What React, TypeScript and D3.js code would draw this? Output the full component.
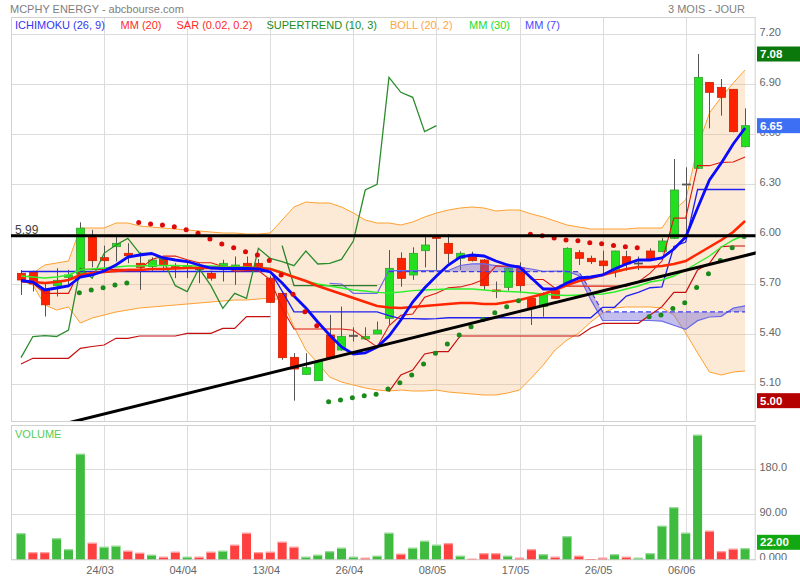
import React from 'react';
import * as d3 from 'd3';

const W = 800;
const H = 580;

const dateIdx = [7, 14, 21, 28, 35, 42, 49, 56];
const dateLabels = ['24/03', '04/04', '13/04', '26/04', '08/05', '17/05', '26/05', '06/06'];

const opens = [5.764, 5.775, 5.67, 5.69, 5.74, 5.76, 5.985, 5.858, 5.924, 5.884,
  5.824, 5.804, 5.85, 5.804, 5.798, 5.792, 5.764, 5.81, 5.804, 5.824,
  5.824, 5.735, 5.644, 5.26, 5.158, 5.12, 5.394, 5.304, 5.392, 5.37,
  5.40, 5.494, 5.854, 5.754, 5.90, 5.984, 5.944, 5.854, 5.864, 5.844,
  5.664, 5.68, 5.798, 5.614, 5.564, 5.66, 5.708, 5.888, 5.854, 5.838,
  5.78, 5.864, 5.826, 5.898, 5.894, 5.974, 6.30, 6.394, 6.91, 6.88,
  6.868, 6.524];
const highs = [5.784, 5.78, 5.70, 5.795, 5.785, 6.07, 6.025, 5.93, 5.99, 5.945,
  5.89, 5.86, 5.865, 5.825, 5.83, 5.825, 5.78, 5.845, 5.865, 5.865,
  5.85, 5.75, 5.65, 5.285, 5.285, 5.245, 5.515, 5.565, 5.44, 5.44,
  5.475, 5.904, 5.89, 5.92, 5.985, 5.99, 6.0, 5.895, 5.894, 5.85,
  5.715, 5.80, 5.83, 5.62, 5.65, 5.67, 5.92, 5.904, 5.87, 5.90,
  5.90, 5.90, 5.865, 5.914, 5.975, 6.45, 6.40, 7.08, 6.91, 6.93,
  6.87, 6.754];
const lows = [5.634, 5.655, 5.505, 5.625, 5.685, 5.75, 5.80, 5.785, 5.835, 5.825,
  5.665, 5.775, 5.775, 5.735, 5.735, 5.705, 5.72, 5.715, 5.695, 5.80,
  5.79, 5.585, 5.245, 5.0, 5.155, 5.12, 5.255, 5.30, 5.355, 5.365,
  5.40, 5.455, 5.684, 5.725, 5.80, 5.784, 5.824, 5.784, 5.835, 5.665,
  5.615, 5.66, 5.645, 5.454, 5.504, 5.61, 5.70, 5.814, 5.82, 5.754,
  5.74, 5.78, 5.784, 5.845, 5.89, 5.97, 5.985, 6.39, 6.634, 6.71,
  6.61, 6.52];
const closes = [5.724, 5.70, 5.575, 5.722, 5.754, 6.035, 5.84, 5.84, 5.944, 5.87,
  5.80, 5.844, 5.81, 5.794, 5.81, 5.788, 5.735, 5.824, 5.814, 5.804,
  5.80, 5.59, 5.258, 5.19, 5.198, 5.235, 5.258, 5.385, 5.39, 5.385,
  5.424, 5.794, 5.734, 5.884, 5.934, 5.974, 5.884, 5.884, 5.84, 5.69,
  5.654, 5.794, 5.69, 5.554, 5.644, 5.614, 5.914, 5.854, 5.834, 5.81,
  5.898, 5.82, 5.824, 5.848, 5.958, 6.264, 6.298, 6.94, 6.85, 6.82,
  6.614, 6.65];

const volumes = [52, 14, 14, 42, 20, 211, 33, 25, 27, 17,
  13, 9, 5, 15, 5, 5, 15, 17, 29, 53,
  14, 15, 35, 25, 5, 9, 16, 23, 5, 3,
  7, 53, 11, 23, 37, 29, 32, 7, 1, 12,
  12, 7, 3, 20, 10, 5, 46, 7, 0.5, 3,
  10, 5, 3, 12, 67, 104, 53, 249, 57, 16,
  21, 22];
const volUp = [1, 0, 0, 1, 1, 1, 0, 1, 1, 0,
  0, 1, 0, 0, 1, 0, 0, 1, 0, 0,
  0, 0, 0, 0, 1, 1, 1, 1, 1, 0,
  1, 1, 0, 1, 1, 1, 0, 1, 0, 0,
  0, 1, 0, 0, 1, 0, 1, 0, 0, 0,
  1, 0, 1, 1, 1, 1, 1, 1, 0, 0,
  0, 1];

const mm7 = [5.721, 5.712, 5.664, 5.676, 5.688, 5.742, 5.754, 5.778, 5.814, 5.862,
  5.874, 5.883, 5.856, 5.844, 5.835, 5.814, 5.796, 5.793, 5.793, 5.793,
  5.790, 5.772, 5.706, 5.628, 5.556, 5.472, 5.394, 5.322, 5.280, 5.286,
  5.322, 5.388, 5.484, 5.592, 5.676, 5.748, 5.814, 5.862, 5.874, 5.868,
  5.838, 5.814, 5.802, 5.736, 5.670, 5.670, 5.706, 5.736, 5.742, 5.754,
  5.790, 5.820, 5.844, 5.844, 5.856, 5.910, 5.982, 6.156, 6.324, 6.426,
  6.540, 6.636];
const mm20 = [5.718, 5.712, 5.706, 5.712, 5.724, 5.754, 5.766, 5.772, 5.778, 5.784,
  5.784, 5.790, 5.790, 5.793, 5.796, 5.796, 5.796, 5.796, 5.796, 5.796,
  5.796, 5.790, 5.766, 5.742, 5.718, 5.688, 5.664, 5.640, 5.616, 5.592,
  5.568, 5.559, 5.556, 5.562, 5.568, 5.574, 5.580, 5.586, 5.586, 5.580,
  5.580, 5.592, 5.604, 5.622, 5.640, 5.664, 5.694, 5.718, 5.736, 5.754,
  5.772, 5.790, 5.802, 5.802, 5.808, 5.820, 5.838, 5.880, 5.922, 5.964,
  6.012, 6.078];
const mm30 = [5.748, 5.742, 5.736, 5.742, 5.754, 5.784, 5.790, 5.796, 5.802, 5.808,
  5.808, 5.811, 5.811, 5.811, 5.808, 5.808, 5.808, 5.805, 5.802, 5.802,
  5.799, 5.793, 5.772, 5.742, 5.718, 5.700, 5.688, 5.676, 5.664, 5.658,
  5.650, 5.646, 5.652, 5.660, 5.664, 5.667, 5.670, 5.670, 5.670, 5.664,
  5.658, 5.655, 5.652, 5.646, 5.640, 5.634, 5.631, 5.634, 5.637, 5.640,
  5.652, 5.670, 5.688, 5.712, 5.724, 5.748, 5.784, 5.826, 5.868, 5.922,
  5.964, 5.994];
const bollUpper = [5.724, 5.766, 5.814, 5.826, 5.838, 6.036, 6.036, 6.036, 6.066, 6.066,
  6.048, 6.042, 6.036, 6.030, 6.024, 6.018, 6.012, 6.006, 6.006, 6.000,
  6.000, 6.006, 6.084, 6.162, 6.192, 6.186, 6.186, 6.162, 6.126, 6.084,
  6.066, 6.066, 6.054, 6.072, 6.102, 6.126, 6.144, 6.156, 6.162, 6.156,
  6.138, 6.144, 6.144, 6.120, 6.102, 6.078, 6.054, 6.042, 6.030, 6.030,
  6.030, 6.030, 6.036, 6.036, 6.036, 6.144, 6.204, 6.522, 6.726, 6.822,
  6.906, 6.984];
const bollLower = [5.724, 5.694, 5.574, 5.544, 5.562, 5.466, 5.496, 5.514, 5.532, 5.544,
  5.556, 5.562, 5.568, 5.574, 5.580, 5.586, 5.592, 5.598, 5.604, 5.604,
  5.610, 5.616, 5.604, 5.442, 5.304, 5.226, 5.142, 5.112, 5.094, 5.076,
  5.064, 5.058, 5.064, 5.058, 5.058, 5.064, 5.052, 5.046, 5.040, 5.034,
  5.034, 5.046, 5.064, 5.136, 5.214, 5.304, 5.364, 5.406, 5.472, 5.526,
  5.556, 5.562, 5.562, 5.562, 5.556, 5.514, 5.406, 5.286, 5.172, 5.154,
  5.172, 5.178];
const tenkan = [5.714, 5.704, 5.644, 5.644, 5.644, 5.7875, 5.7875, 5.7875, 5.7875, 5.7875,
  5.7875, 5.8475, 5.8675, 5.8675, 5.845, 5.8275, 5.8275, 5.805, 5.7775, 5.78,
  5.78, 5.725, 5.555, 5.43, 5.43, 5.43, 5.43, 5.43, 5.4225, 5.3725,
  5.3225, 5.4495, 5.512, 5.52, 5.62, 5.645, 5.6775, 5.6825, 5.70, 5.7275,
  5.8075, 5.8075, 5.8075, 5.727, 5.727, 5.6745, 5.687, 5.687, 5.687, 5.687,
  5.687, 5.687, 5.712, 5.765, 5.8375, 6.095, 6.095, 6.41, 6.41, 6.43,
  6.432, 6.4625];
const kijun = [5.775, 5.775, 5.775, 5.775, 5.775, 5.775, 5.775, 5.775, 5.775, 5.775,
  5.775, 5.775, 5.775, 5.775, 5.775, 5.775, 5.775, 5.775, 5.775, 5.775,
  5.775, 5.775, 5.6575, 5.5325, 5.5325, 5.5325, 5.5325, 5.5325, 5.5325, 5.5325,
  5.5325, 5.51, 5.4925, 5.4925, 5.49, 5.4925, 5.4975, 5.4975, 5.4975, 5.4975,
  5.4975, 5.4975, 5.4975, 5.4975, 5.4975, 5.4975, 5.4975, 5.4975, 5.4975, 5.56,
  5.56, 5.6275, 5.65, 5.6775, 5.6825, 5.925, 5.952, 6.267, 6.267, 6.267,
  6.267, 6.267];
const N = null;
const senkouA = [N, N, N, N, N, N, N, N, N, N,
  N, N, N, N, N, N, N, N, N, N,
  N, N, N, N, N, N, 5.704, 5.70, 5.644, 5.644,
  5.644, 5.781, 5.781, 5.781, 5.781, 5.781, 5.781, 5.811, 5.821, 5.821,
  5.81, 5.80, 5.80, 5.79, 5.776, 5.7775, 5.7775, 5.75, 5.606, 5.481,
  5.481, 5.481, 5.481, 5.481, 5.4775, 5.4525, 5.4275, 5.48, 5.502, 5.506,
  5.555, 5.569];
const senkouB = [N, N, N, N, N, N, N, N, N, N,
  N, N, N, N, N, N, N, N, N, N,
  N, N, N, N, N, N, N, N, N, N,
  N, 5.774, 5.774, 5.774, 5.774, 5.774, 5.774, 5.774, 5.774, 5.774,
  5.774, 5.774, 5.774, 5.774, 5.774, 5.774, 5.774, 5.774, 5.6575, 5.5325,
  5.5325, 5.5325, 5.5325, 5.5325, 5.5325, 5.5325, 5.5325, 5.5325, 5.5325, 5.5325,
  5.5325, 5.5325];
const sar = [N, N, N, N, N, 5.648, 5.664, 5.678, 5.694, 5.706,
  6.069, 6.060, 6.054, 6.044, 6.025, 6.004, 5.970, 5.940, 5.918, 5.894,
  5.874, 5.841, 5.754, 5.638, 5.534, 5.450, 4.994, 5.004, 5.018, 5.030,
  5.038, 5.070, 5.108, 5.154, 5.220, 5.284, 5.340, 5.394, 5.444, 5.487,
  5.528, 5.564, 5.599, 5.999, 5.990, 5.976, 5.964, 5.959, 5.948, 5.942,
  5.931, 5.923, 5.918, 5.504, 5.514, 5.553, 5.588, 5.679, 5.762, 5.841,
  5.918, 5.985];
const superUp = [5.22, 5.254, 5.254, 5.254, 5.254, 5.314, 5.325, 5.334, 5.374, 5.374,
  5.388, 5.388, 5.388, 5.388, 5.404, 5.404, 5.404, 5.434, 5.434, 5.504,
  5.504, 5.504, N, N, N, N, N, N, N, N,
  N, 5.054, 5.154, 5.184, 5.28, 5.294, 5.294, 5.388, 5.388, 5.388,
  5.388, 5.388, 5.388, 5.388, 5.388, 5.388, 5.388, 5.388, 5.436, 5.464,
  5.464, 5.464, 5.464, 5.514, 5.564, 5.65, 5.65, 5.784, 5.824, 5.924,
  5.928, 5.928];
const superDown = [N, N, N, N, N, N, N, N, N, N,
  N, N, N, N, N, N, N, N, N, N,
  N, N, 5.93, 5.69, 5.69, 5.69, 5.69, 5.69, 5.69, 5.69,
  5.69, N, N, N, N, N, N, N, N, N,
  N, N, N, N, N, N, N, N, N, N,
  N, N, N, N, N, N, N, N, N, N,
  N, N];

const chikouShift = 26;
const priceTicks = [5.1, 5.4, 5.7, 6.0, 6.3, 6.6, 6.9, 7.2];
const volTicks = [0, 90, 180];
const volTickLabels = ['0.000', '90.00', '180.0'];
const levelValue = 5.99;
const trendStart = { i: 0, v: 4.797 };
const trendEnd = { i: 62, v: 5.888 };

const legendItems = [
  { text: 'ICHIMOKU (26, 9)', color: '#3535f0', x: 15 },
  { text: 'MM (20)', color: '#ff2a2a', x: 120.5 },
  { text: 'SAR (0.02, 0.2)', color: '#ff2a2a', x: 176.5 },
  { text: 'SUPERTREND (10, 3)', color: '#228b22', x: 266.5 },
  { text: 'BOLL (20, 2)', color: '#ffa640', x: 390 },
  { text: 'MM (30)', color: '#22dd22', x: 469 },
  { text: 'MM (7)', color: '#4a4aff', x: 525 },
];

const FONT = '"Liberation Sans", Arial, sans-serif';
const L = 11, R = 755.7, TOP = 17, BOT = 421, VTOP = 425, VBOT = 559.3;

export default function App() {
  const n = closes.length;
  const xs = d3.scaleLinear().domain([0, 61]).range([21, 21 + 61 * 11.87]);
  const ys = d3.scaleLinear().domain([4.878, 7.302]).range([BOT, TOP]);
  const yv = d3.scaleLinear().domain([0, 268.6]).range([VBOT, VTOP]);
  const idx = d3.range(n);

  const lineOf = (arr: (number | null)[]) =>
    d3.line<number>()
      .defined((i) => arr[i] != null)
      .x((i) => xs(i))
      .y((i) => ys(arr[i] as number))(idx) || '';

  const bandArea = d3.area<number>()
    .x((i) => xs(i))
    .y0((i) => ys(bollLower[i]))
    .y1((i) => ys(bollUpper[i]))(idx) || '';

  const cloudArea = d3.area<number>()
    .defined((i) => senkouA[i] != null && senkouB[i] != null)
    .x((i) => xs(i))
    .y0((i) => ys(senkouA[i] as number))
    .y1((i) => ys(senkouB[i] as number))(idx) || '';

  const chikou = idx.map((i) => (i + chikouShift < n ? closes[i + chikouShift] : null));

  const maxHigh = d3.max(highs) as number;
  const minLow = d3.min(lows) as number;
  const lastClose = closes[n - 1];
  const lastVol = volumes[n - 1];

  const green = '#22e01e';
  const greenStroke = '#35a035';
  const red = '#ff2200';
  const redStroke = '#cc2200';

  const marker = (y: number, label: string, fill: string, key: string) => (
    <g key={key}>
      <rect x={757} y={y - 7.5} width={43} height={15} fill={fill} />
      <text x={760} y={y + 4} fontSize={11.5} fontWeight="bold" fill="#fff" fontFamily={FONT}>{label}</text>
    </g>
  );

  return (
    <svg width={W} height={H} style={{ position: 'absolute', left: 0, top: 0, background: '#fff' }}>
      <defs>
        <clipPath id="mainClip"><rect x={L} y={TOP} width={R - L} height={BOT - TOP} /></clipPath>
        <clipPath id="axisClip"><rect x={756} y={0} width={44} height={560} /></clipPath>
      </defs>
      <rect x={0} y={0} width={W} height={H} fill="#fff" />

      {/* header */}
      <text x={10} y={13} fontSize={11} fill="#808080" fontFamily={FONT}>MCPHY ENERGY - abcbourse.com</text>
      <text x={745} y={13} fontSize={11} fill="#808080" fontFamily={FONT} textAnchor="end">3 MOIS - JOUR</text>

      {/* main grid */}
      <g stroke="#dcdcdc" strokeWidth={1}>
        {priceTicks.map((t) => (
          <line key={'hp' + t} x1={L} x2={R} y1={Math.round(ys(t)) + 0.5} y2={Math.round(ys(t)) + 0.5} />
        ))}
        {dateIdx.map((i) => (
          <line key={'vg' + i} x1={Math.round(xs(i)) + 0.5} x2={Math.round(xs(i)) + 0.5} y1={TOP} y2={BOT} />
        ))}
        {volTicks.map((t) => (
          <line key={'hv' + t} x1={L} x2={R} y1={Math.round(yv(t)) + 0.5} y2={Math.round(yv(t)) + 0.5} />
        ))}
        {dateIdx.map((i) => (
          <line key={'vv' + i} x1={Math.round(xs(i)) + 0.5} x2={Math.round(xs(i)) + 0.5} y1={VTOP} y2={VBOT} />
        ))}
      </g>
      <rect x={L + 0.5} y={TOP + 0.5} width={R - L - 1} height={BOT - TOP} fill="none" stroke="#d0d0d0" />
      <rect x={L + 0.5} y={VTOP + 0.5} width={R - L - 1} height={VBOT - VTOP} fill="none" stroke="#d0d0d0" />

      <g clipPath="url(#mainClip)">
        {/* bollinger */}
        <path d={bandArea} fill="rgba(248,186,118,0.3)" />
        <path d={lineOf(bollUpper)} fill="none" stroke="#ffa030" strokeWidth={1} />
        <path d={lineOf(bollLower)} fill="none" stroke="#ffa030" strokeWidth={1} />

        {/* candles */}
        {idx.map((i) => {
          const x = Math.round(xs(i)) + 0.5;
          const up = closes[i] >= opens[i];
          const yTop = ys(Math.max(opens[i], closes[i]));
          const yBot = ys(Math.min(opens[i], closes[i]));
          const h = Math.max(1, yBot - yTop);
          return (
            <g key={'c' + i}>
              <line x1={x} x2={x} y1={ys(highs[i])} y2={ys(lows[i])} stroke="#555" strokeWidth={1} />
              <rect x={x - 4} y={yTop} width={8} height={h}
                fill={h <= 1.5 ? '#555' : up ? green : red}
                stroke={h <= 1.5 ? '#555' : up ? greenStroke : redStroke} strokeWidth={0.8} />
            </g>
          );
        })}

        {/* ichimoku cloud */}
        <path d={cloudArea} fill="rgba(110,100,215,0.42)" />
        <path d={lineOf(senkouA)} fill="none" stroke="#6a6ae6" strokeWidth={1.2} />
        <path d={lineOf(senkouB)} fill="none" stroke="#3c3cf0" strokeWidth={1.2} strokeDasharray="5,3" />
        <path d={lineOf(kijun)} fill="none" stroke="#2020f0" strokeWidth={1.3} />
        <path d={lineOf(tenkan)} fill="none" stroke="#dd1a10" strokeWidth={1.1} />
        <path d={lineOf(chikou)} fill="none" stroke="#2c8c2c" strokeWidth={1.3} />

        {/* supertrend */}
        <path d={lineOf(superUp)} fill="none" stroke="#c41010" strokeWidth={1.2} />
        <path d={lineOf(superDown)} fill="none" stroke="#2a7d2a" strokeWidth={1.3} />

        {/* moving averages */}
        <path d={lineOf(mm30)} fill="none" stroke="#2cf02c" strokeWidth={1.4} />
        <path d={lineOf(mm20)} fill="none" stroke="#ff2600" strokeWidth={2.6} />
        <path d={lineOf(mm7)} fill="none" stroke="#0a0aff" strokeWidth={2.8} />

        {/* SAR */}
        {idx.filter((i) => sar[i] != null).map((i) => (
          <circle key={'s' + i} cx={xs(i) - 1} cy={ys(sar[i] as number)} r={2.5}
            fill={(sar[i] as number) > closes[i] ? '#dd0a0a' : '#1a8a1a'} />
        ))}

        {/* trend lines */}
        <line x1={L} x2={R} y1={ys(levelValue)} y2={ys(levelValue)} stroke="#000" strokeWidth={3} />
        <line x1={xs(trendStart.i)} y1={ys(trendStart.v)} x2={xs(trendEnd.i)} y2={ys(trendEnd.v)}
          stroke="#000" strokeWidth={3} />
      </g>
      <text x={15} y={ys(levelValue) - 2} fontSize={12} fill="#444" fontFamily={FONT}>{levelValue.toFixed(2)}</text>

      {/* legend */}
      {legendItems.map((d) => (
        <text key={d.text} x={d.x} y={28.5} fontSize={11} fill={d.color} fontFamily={FONT}>{d.text}</text>
      ))}

      {/* volume */}
      <text x={15} y={438} fontSize={11} fill="#55cc55" fontFamily={FONT}>VOLUME</text>
      {idx.map((i) => {
        const x = xs(i);
        const y = yv(volumes[i]);
        const col = volUp[i] ? '#3fbb3f' : '#ff4040';
        const lite = volUp[i] ? '#a6e0a6' : '#ffb0b0';
        return (
          <g key={'v' + i}>
            <rect x={x - 4.5} y={y} width={9} height={Math.max(0.5, VBOT - y)} fill={col} />
            <rect x={x - 4.5} y={y} width={9} height={Math.min(1, VBOT - y)} fill={lite} />
          </g>
        );
      })}

      {/* right axis labels */}
      <g clipPath="url(#axisClip)">
        {priceTicks.map((t) => (
          <text key={'pl' + t} x={759.5} y={ys(t) + 1.8} fontSize={11} fill="#666" fontFamily={FONT}>{t.toFixed(2)}</text>
        ))}
        {volTicks.map((t, k) => (
          <text key={'vl' + t} x={759.5} y={yv(t) + 1.8} fontSize={11} fill="#666" fontFamily={FONT}>{volTickLabels[k]}</text>
        ))}
      </g>
      {marker(ys(maxHigh), maxHigh.toFixed(2), '#0b780b', 'mh')}
      {marker(ys(lastClose), lastClose.toFixed(2), '#3d6ff5', 'lc')}
      {marker(ys(minLow), minLow.toFixed(2), '#b50000', 'ml')}
      {marker(yv(lastVol) - 6, lastVol.toFixed(2), '#12a812', 'lv')}

      {/* x labels */}
      {dateIdx.map((i, k) => (
        <text key={'xl' + i} x={xs(i) - 4} y={574} fontSize={11} fill="#666" fontFamily={FONT} textAnchor="middle">{dateLabels[k]}</text>
      ))}
    </svg>
  );
}
